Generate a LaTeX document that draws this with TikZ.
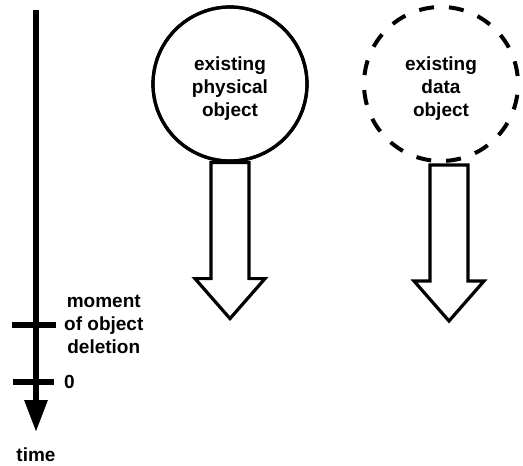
\documentclass[tikz,border=0pt]{standalone}
\usepackage{fontspec}
\setmainfont{Liberation Sans}
\usetikzlibrary{arrows.meta,positioning}

\begin{document}
\begin{tikzpicture}[x=1pt,y=-1pt,
  every node/.style={font=\bfseries\fontsize{19}{23}\selectfont,align=center,inner sep=0pt},
  objcircle/.style={circle,line width=3.2pt,minimum size=154pt},
  blockarrow/.style={draw,line width=3.2pt,fill=white,line join=miter},
  timeline/.style={line width=6pt,-{Triangle[width=22pt,length=32pt]}},
  tickmark/.style={line width=6pt}]
\useasboundingbox (0,0) rectangle (523,466);
% time axis
\coordinate (start) at (36,10);
\coordinate (end) at (36,432);
\draw[timeline] (start) -- (end);
\coordinate (del) at (36,325);
\draw[tickmark] ([xshift=-24pt]del) -- ([xshift=20pt]del);
\node[anchor=west] (dellabel) at (64,324) {moment\\of object\\deletion};
\coordinate (zero) at (36,382);
\draw[tickmark] ([xshift=-23pt]zero) -- ([xshift=18pt]zero);
\node[anchor=west] (zerolabel) at (64,382) {0};
\node (timelabel) at (36,455) {time};
% physical object
\node[objcircle,draw,fill=white] (phys) at (230,84) {};
\node (physlabel) at (230,89) {existing\\physical\\object};
\draw[blockarrow] ([xshift=-19pt]phys.south) -- ++(0,116) -- ++(-16,0) -- ++(35,40)
  -- ++(35,-40) -- ++(-16,0) -- ++(0,-116) -- cycle;
\draw[line width=3.2pt] (phys) circle (77);
% data object
\node[objcircle,line width=4pt,draw,dash pattern=on 15pt off 15pt,dash phase=22pt] (data) at (441,84) {};
\node (datalabel) at (441,89) {existing\\data\\object};
\draw[blockarrow] ([xshift=-11pt,yshift=-2pt]data.south) -- ++(0,116) -- ++(-16,0) -- ++(35,40)
  -- ++(35,-40) -- ++(-16,0) -- ++(0,-116) -- cycle;
\end{tikzpicture}
\end{document}
